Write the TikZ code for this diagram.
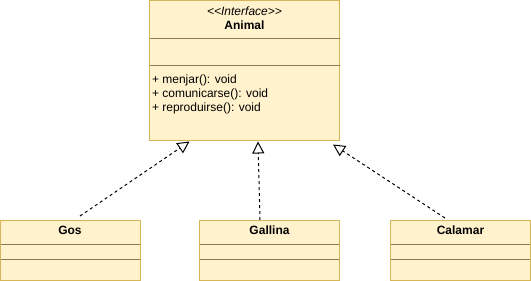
\documentclass[tikz,border=0pt]{standalone}
\usepackage{fontspec}
\setmainfont{Liberation Sans}
\usetikzlibrary{arrows.meta}
\definecolor{umlfill}{HTML}{FFF2CC}
\definecolor{umlborder}{HTML}{D6B656}
\definecolor{umlsep}{HTML}{8A7A58}
\begin{document}
\begin{tikzpicture}[x=1pt,y=-1pt,
  classbox/.style={draw=umlborder,fill=umlfill,line width=1pt,rectangle,inner sep=0pt,outer sep=0pt,anchor=north west},
  sepline/.style={draw=umlsep,line width=1pt},
  txt/.style={inner sep=0pt,outer sep=0pt,font=\fontsize{12}{14}\selectfont},
  realize/.style={draw=black,line width=1pt,dash pattern=on 3pt off 3pt,
    -{Triangle[open,length=12pt,width=12pt]}}
]
\useasboundingbox (0,0) rectangle (531,281);
% Interface box
\node[classbox,minimum width=190pt,minimum height=139.5pt] (animal) at (149.5,0.5) {};
\draw[sepline] (149.5,38.5) -- (339.5,38.5);
\draw[sepline] (149.5,65.5) -- (339.5,65.5);
\node[txt,anchor=base,font=\fontsize{12}{14}\selectfont\itshape] (stereo) at (244.5,16) {<\kern0pt<Interface>\kern0pt>};
\node[txt,anchor=base,font=\fontsize{12}{14}\selectfont\bfseries] (animalname) at (244.5,29) {Animal};
\node[txt,anchor=base west] (m1) at (152,83.5) {+ menjar(): void};
\node[txt,anchor=base west] (m2) at (152,97.5) {+ comunicarse(): void};
\node[txt,anchor=base west] (m3) at (152,111.5) {+ reproduirse(): void};
% Gos
\node[classbox,minimum width=139.5pt,minimum height=59.5pt] (gos) at (0.5,220.5) {};
\draw[sepline] (0.5,244.5) -- (140,244.5);
\draw[sepline] (0.5,259.5) -- (140,259.5);
\node[txt,anchor=base,font=\fontsize{12}{14}\selectfont\bfseries] (gosname) at (70,234.5) {Gos};
% Gallina
\node[classbox,minimum width=139.5pt,minimum height=59.5pt] (gallina) at (199.5,220.5) {};
\draw[sepline] (199.5,244.5) -- (339,244.5);
\draw[sepline] (199.5,259.5) -- (339,259.5);
\node[txt,anchor=base,font=\fontsize{12}{14}\selectfont\bfseries] (gallinaname) at (269.5,234.5) {Gallina};
% Calamar
\node[classbox,minimum width=139.5pt,minimum height=59.5pt] (calamar) at (390.5,220.5) {};
\draw[sepline] (390.5,244.5) -- (530,244.5);
\draw[sepline] (390.5,259.5) -- (530,259.5);
\node[txt,anchor=base,font=\fontsize{12}{14}\selectfont\bfseries] (calamarname) at (460.5,234.5) {Calamar};
% connectors
\coordinate (gosstart) at (80,216);
\coordinate (gostip) at (189.5,141.5);
\coordinate (galstart) at (260,220);
\coordinate (galtip) at (258,141.5);
\coordinate (calstart) at (445,218);
\coordinate (caltip) at (333,144.5);
\draw[realize] (gosstart) -- (gostip);
\draw[realize] (galstart) -- (galtip);
\draw[realize] (calstart) -- (caltip);
\end{tikzpicture}
\end{document}
